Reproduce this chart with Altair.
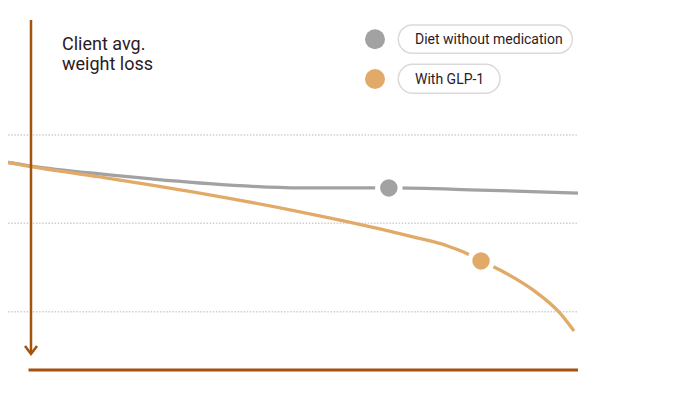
import altair as alt
import pandas as pd

# ---- data ----
series_names = ["Diet without medication", "With GLP-1"]
series_colors = ["#a2a2a2", "#e2aa68"]

weeks_diet = [-2.6, 0, 6.05, 14.8, 23.6, 31.4, 39.4, 48]
loss_diet = [6.50, 6.76, 7.21, 7.72, 8.00, 8.00, 8.12, 8.29]

weeks_glp = [-2.6, 0, 6.05, 14.8, 23.6, 30.62, 33.52, 36.5, 37.91, 39.49, 41.15, 44.05, 46.4, 47.65]
loss_glp = [6.48, 6.79, 7.38, 8.29, 9.35, 10.32, 10.77, 11.27, 11.61, 12.13, 12.64, 13.77, 15.07, 16.09]

marker_weeks = [31.4, 39.49]
marker_loss = [8.00, 12.13]

grid_values = [5, 10, 15]
title_lines = ["Client avg.", "weight loss"]

diet = pd.DataFrame({"week": weeks_diet, "loss": loss_diet, "series": series_names[0]})
glp = pd.DataFrame({"week": weeks_glp, "loss": loss_glp, "series": series_names[1]})
markers = pd.DataFrame({"week": marker_weeks, "loss": marker_loss, "series": series_names})
grid = pd.DataFrame({"loss": grid_values})
one = pd.DataFrame({"k": [0]})

AXIS = "#a3530c"
TEXT = "#2b1a1f"
FONT = "Roboto"

xs = alt.Scale(domain=[0, 48], nice=False, zero=False)
ys = alt.Scale(domain=[-1.5, 18.3], nice=False, zero=False, reverse=True)
cs = alt.Scale(domain=series_names, range=series_colors)

X = alt.X("week:Q", scale=xs, axis=None)
Y = alt.Y("loss:Q", scale=ys, axis=None)
C = alt.Color("series:N", scale=cs, legend=None)

grid_layer = alt.Chart(grid).mark_rule(
    color="#cfcfcf", strokeWidth=1.5, strokeDash=[1.5, 1.6], clip=False
).encode(x=alt.value(-26), x2=alt.value(547), y=Y)

diet_line = alt.Chart(diet).mark_line(
    strokeWidth=3.3, interpolate="monotone", clip=False
).encode(x=X, y=Y, color=C)

glp_line = alt.Chart(glp).mark_line(
    strokeWidth=3.3, interpolate="monotone", clip=False
).encode(x=X, y=Y, color=C)

marker_layer = alt.Chart(markers).mark_point(
    filled=True, size=506, stroke="white", strokeWidth=5, opacity=1, clip=False
).encode(x=X, y=Y, fill=alt.Fill("series:N", scale=cs, legend=None))

v_axis = alt.Chart(one).mark_rule(color=AXIS, strokeWidth=2.5).encode(
    x=alt.value(0), y=alt.value(0), y2=alt.value(333)
)
arrow = alt.Chart(one).mark_point(
    shape="M-1,-0.67L0,0.67L1,-0.67", filled=False, size=144,
    color=AXIS, strokeWidth=2.5, opacity=1
).encode(x=alt.value(0), y=alt.value(330))
h_axis = alt.Chart(one).mark_rule(color=AXIS, strokeWidth=3).encode(
    x=alt.value(-2.5), x2=alt.value(547), y=alt.value(350)
)

title_layers = [
    alt.Chart(one).mark_text(
        align="left", baseline="alphabetic", font=FONT,
        fontSize=18, fontWeight="normal", color=TEXT
    ).encode(x=alt.value(31), y=alt.value(ty), text=alt.value(line))
    for line, ty in zip(title_lines, [29.5, 50])
]

legend_layers = []
rows = [(19.3, 5, 33.3, 541.3, 24.3), (59, 44.3, 73.3, 469, 64)]
for name, col, (cy, ry0, ry1, rx1, ty) in zip(series_names, series_colors, rows):
    legend_layers.append(
        alt.Chart(one).mark_point(filled=True, size=400, color=col, opacity=1).encode(
            x=alt.value(344), y=alt.value(cy)
        )
    )
    legend_layers.append(
        alt.Chart(one).mark_rect(
            fill="white", stroke="#dadada", strokeWidth=1.5, cornerRadius=14.5
        ).encode(x=alt.value(367.3), x2=alt.value(rx1), y=alt.value(ry0), y2=alt.value(ry1))
    )
    legend_layers.append(
        alt.Chart(one).mark_text(
            align="left", baseline="alphabetic", font=FONT, fontSize=14,
            fontWeight="normal", color=TEXT
        ).encode(x=alt.value(384), y=alt.value(ty), text=alt.value(name))
    )

chart = alt.layer(
    grid_layer, diet_line, glp_line, marker_layer, v_axis, arrow, h_axis,
    *title_layers, *legend_layers
).properties(
    width=547, height=350,
    autosize=alt.AutoSizeParams(type="none"),
    padding={"left": 23, "top": 12, "right": 114, "bottom": 22},
    background="white",
).configure_view(stroke=None)

chart.save("out.html", embed_options={"renderer": "svg", "actions": False})
